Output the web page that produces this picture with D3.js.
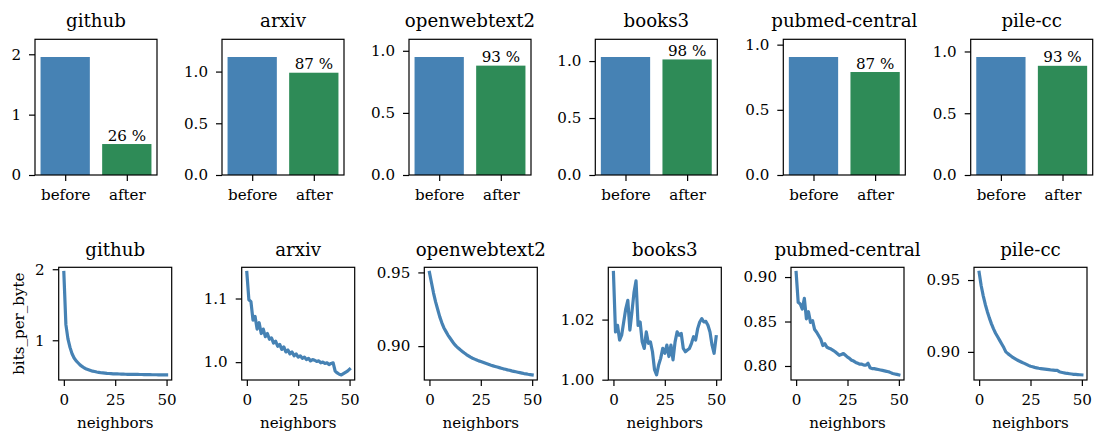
<!DOCTYPE html>
<html>
<head>
<meta charset="utf-8">
<script src="https://cdn.jsdelivr.net/npm/d3@7"></script>
<style>
  html, body { margin: 0; padding: 0; background: #fff; }
  svg { display: block; }
  text { font-family: "DejaVu Serif", serif; fill: #000; }
</style>
</head>
<body>
<svg id="chart" width="1094" height="433"></svg>
<script>
// ---------------- data ----------------
const datasets = ["github", "arxiv", "openwebtext2", "books3", "pubmed-central", "pile-cc"];
const barCategories = ["before", "after"];
const neighbors = d3.range(0, 51);

const beforeVals = [1.955, 1.141, 0.950, 1.0357, 0.9052, 0.9553];
const afterVals  = [0.513, 0.989, 0.8805, 1.0143, 0.790, 0.884];

const barTicks = [[0, 1, 2], [0, 0.5, 1.0], [0, 0.5, 1.0], [0, 0.5, 1.0], [0, 0.5, 1.0], [0, 0.5, 1.0]];
const barTickFmt = ["d", ".1f", ".1f", ".1f", ".1f", ".1f"];
const lineTicks = [[1, 2], [1.0, 1.1], [0.90, 0.95], [1.00, 1.02], [0.80, 0.85, 0.90], [0.90, 0.95]];
const lineTickFmt = ["d", ".1f", ".2f", ".2f", ".2f", ".2f"];
const xTicks = [0, 25, 50];

const githubBpb = [1.955, 1.22, 1.02, 0.90, 0.81, 0.75, 0.71, 0.68, 0.65, 0.63, 0.61, 0.595, 0.585, 0.575, 0.565, 0.56,
  0.553, 0.548, 0.543, 0.54, 0.537, 0.534, 0.532, 0.53, 0.528, 0.527, 0.526, 0.525, 0.524, 0.523, 0.522,
  0.521, 0.521, 0.520, 0.520, 0.519, 0.519, 0.518, 0.518, 0.517, 0.517, 0.516, 0.516, 0.515, 0.515, 0.515,
  0.514, 0.514, 0.514, 0.513, 0.513];
const arxivBpb = [1.141, 1.098, 1.095, 1.066, 1.072, 1.052, 1.062, 1.045, 1.052, 1.040, 1.045, 1.036, 1.038, 1.030,
  1.033, 1.025, 1.028, 1.020, 1.024, 1.016, 1.019, 1.013, 1.016, 1.010, 1.013, 1.008, 1.010, 1.006, 1.008,
  1.004, 1.006, 1.002, 1.004, 1.003, 1.001, 1.002, 0.999, 1.000, 0.998, 0.999, 0.996, 0.998, 0.999, 0.986,
  0.983, 0.981, 0.980, 0.982, 0.984, 0.986, 0.989];
const openwebBpb = [0.950, 0.943, 0.936, 0.930, 0.925, 0.920, 0.916, 0.9125, 0.910, 0.9075, 0.9055, 0.9035, 0.9015,
  0.9000, 0.8987, 0.8975, 0.8964, 0.8953, 0.8943, 0.8934, 0.8925, 0.8918, 0.8912, 0.8906, 0.8900, 0.8895,
  0.8890, 0.8885, 0.8880, 0.8875, 0.8870, 0.8866, 0.8862, 0.8858, 0.8854, 0.8850, 0.8846, 0.8843, 0.8839,
  0.8836, 0.8832, 0.8829, 0.8826, 0.8823, 0.8820, 0.8817, 0.8814, 0.8812, 0.8809, 0.8807, 0.8805];
const books3Bpb = [1.0357, 1.0159, 1.0181, 1.0132, 1.0148, 1.0192, 1.0236, 1.0264, 1.0165, 1.0225, 1.0290, 1.0329,
  1.0181, 1.0192, 1.0126, 1.0104, 1.0159, 1.0121, 1.0126, 1.0093, 1.0033, 1.0016, 1.0049, 1.0071, 1.0104,
  1.0088, 1.0115, 1.0077, 1.0115, 1.0066, 1.0126, 1.0159, 1.0148, 1.0154, 1.0104, 1.0093, 1.0099, 1.0104,
  1.0121, 1.0143, 1.0132, 1.0170, 1.0192, 1.0203, 1.0192, 1.0194, 1.0181, 1.0159, 1.0115, 1.0088, 1.0143];
const pubmedBpb = [0.9052, 0.8716, 0.8697, 0.864, 0.876, 0.853, 0.861, 0.849, 0.851, 0.841, 0.838, 0.834, 0.830,
  0.823, 0.825, 0.821, 0.820, 0.819, 0.8175, 0.816, 0.814, 0.812, 0.813, 0.814, 0.812, 0.810, 0.8085, 0.8065,
  0.8055, 0.804, 0.803, 0.802, 0.802, 0.801, 0.801, 0.803, 0.798, 0.797, 0.797, 0.7965, 0.796, 0.7955, 0.795,
  0.7945, 0.794, 0.7935, 0.7925, 0.7915, 0.791, 0.7905, 0.790];
const pileccBpb = [0.9553, 0.946, 0.939, 0.933, 0.928, 0.9235, 0.9195, 0.916, 0.913, 0.9105, 0.908, 0.9055, 0.903,
  0.900, 0.8988, 0.8977, 0.8966, 0.8957, 0.8948, 0.894, 0.8933, 0.8926, 0.892, 0.8913, 0.8906, 0.8900, 0.8896,
  0.8892, 0.8889, 0.8886, 0.8884, 0.8882, 0.888, 0.8878, 0.8876, 0.8874, 0.8873, 0.8872, 0.8871, 0.8862,
  0.8858, 0.8855, 0.8852, 0.885, 0.8848, 0.8846, 0.8844, 0.8843, 0.8842, 0.8841, 0.884];
const lineSeries = [githubBpb, arxivBpb, openwebBpb, books3Bpb, pubmedBpb, pileccBpb];

// ---------------- layout ----------------
const svg = d3.select("#chart");
const BLUE = "#4682b4", GREEN = "#2e8b57";
const TICK_FS = 15.1, TITLE_FS = 18.2;

const topLefts = [35, 222, 409, 595.3, 783.3, 970.7];
const topW = 122, topY0 = 39.3, topY1 = 175;
const botLefts = [58.7, 241.7, 424.3, 608.3, 791, 974];
const botW = 113, botY0 = 267.3, botY1 = 380;

function styleAxis(g) {
  g.select(".domain").remove();
  g.selectAll(".tick line").attr("stroke", "#000").attr("stroke-width", 1.2);
  g.selectAll(".tick text").attr("font-size", TICK_FS).attr("font-family", "DejaVu Serif").attr("fill", "#000");
}

function frame(g, x0, y0, w, h) {
  g.append("rect").attr("x", x0).attr("y", y0).attr("width", w).attr("height", h)
    .attr("fill", "none").attr("stroke", "#000").attr("stroke-width", 1.2);
}

// ---------------- top row: bars ----------------
datasets.forEach((name, i) => {
  const x0 = topLefts[i];
  const g = svg.append("g");
  const x = d3.scaleLinear().domain([-0.49, 1.49]).range([x0, x0 + topW]);
  const y = d3.scaleLinear().domain([0, beforeVals[i] * 1.15]).range([topY1, topY0]);
  const vals = [beforeVals[i], afterVals[i]];
  const bw = x(0.4) - x(-0.4);

  g.selectAll("rect.bar").data(vals).enter().append("rect")
    .attr("class", "bar")
    .attr("x", (d, k) => x(k) - bw / 2)
    .attr("width", bw)
    .attr("y", d => y(d))
    .attr("height", d => topY1 - y(d))
    .attr("fill", (d, k) => k === 0 ? BLUE : GREEN);

  const pct = Math.round(afterVals[i] / beforeVals[i] * 100);
  g.append("text").attr("x", x(1)).attr("y", y(afterVals[i]) - 3.5)
    .attr("text-anchor", "middle").attr("font-size", TICK_FS).text(pct + " %");

  g.append("g").attr("transform", `translate(0,${topY1})`)
    .call(d3.axisBottom(x).tickValues([0, 1]).tickFormat(k => barCategories[k]).tickSize(6).tickPadding(8.5))
    .call(styleAxis);
  g.append("g").attr("transform", `translate(${x0},0)`)
    .call(d3.axisLeft(y).tickValues(barTicks[i]).tickFormat(d3.format(barTickFmt[i])).tickSize(6).tickPadding(8))
    .call(styleAxis);

  frame(g, x0, topY0, topW, topY1 - topY0);
  g.append("text").attr("x", x0 + topW / 2).attr("y", topY0 - 12.5)
    .attr("text-anchor", "middle").attr("font-size", TITLE_FS).text(name);
});

// ---------------- bottom row: lines ----------------
datasets.forEach((name, i) => {
  const x0 = botLefts[i];
  const g = svg.append("g");
  const data = lineSeries[i];
  const x = d3.scaleLinear().domain([-2.5, 52.5]).range([x0, x0 + botW]);
  const [mn, mx] = d3.extent(data);
  const pad = (mx - mn) * 0.05;
  const y = d3.scaleLinear().domain([mn - pad, mx + pad]).range([botY1, botY0]);

  const clipId = "clip" + i;
  g.append("clipPath").attr("id", clipId).append("rect")
    .attr("x", x0).attr("y", botY0).attr("width", botW).attr("height", botY1 - botY0);

  g.append("path").datum(data)
    .attr("clip-path", `url(#${clipId})`)
    .attr("fill", "none").attr("stroke", BLUE).attr("stroke-width", 3.2)
    .attr("stroke-linejoin", "round").attr("stroke-linecap", "square")
    .attr("d", d3.line().x((d, k) => x(neighbors[k])).y(d => y(d)));

  g.append("g").attr("transform", `translate(0,${botY1})`)
    .call(d3.axisBottom(x).tickValues(xTicks).tickFormat(d3.format("d")).tickSize(6).tickPadding(8.5))
    .call(styleAxis);
  g.append("g").attr("transform", `translate(${x0},0)`)
    .call(d3.axisLeft(y).tickValues(lineTicks[i]).tickFormat(d3.format(lineTickFmt[i])).tickSize(6).tickPadding(8))
    .call(styleAxis);

  frame(g, x0, botY0, botW, botY1 - botY0);
  g.append("text").attr("x", x0 + botW / 2).attr("y", botY0 - 11.5)
    .attr("text-anchor", "middle").attr("font-size", TITLE_FS).text(name);
  g.append("text").attr("x", x0 + botW / 2).attr("y", 428)
    .attr("text-anchor", "middle").attr("font-size", TICK_FS).text("neighbors");
  if (i === 0) {
    g.append("text").attr("transform", `translate(18.5,${(botY0 + botY1) / 2}) rotate(-90)`)
      .attr("text-anchor", "middle").attr("dominant-baseline", "central")
      .attr("font-size", TICK_FS).text("bits_per_byte");
  }
});
</script>
</body>
</html>
